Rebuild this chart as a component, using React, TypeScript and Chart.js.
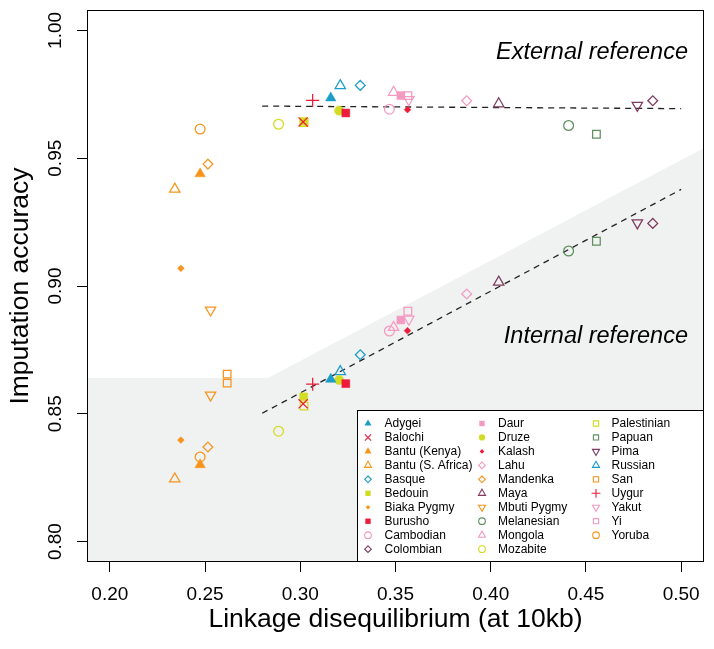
import React, { useEffect, useRef } from 'react';
import { Chart, registerables } from 'chart.js';

Chart.register(...registerables);

// ---------------- data ----------------
const populations = [
  'Adygei', 'Balochi', 'Bantu (Kenya)', 'Bantu (S. Africa)', 'Basque', 'Bedouin', 'Biaka Pygmy', 'Burusho', 'Cambodian', 'Colombian',
  'Daur', 'Druze', 'Kalash', 'Lahu', 'Mandenka', 'Maya', 'Mbuti Pygmy', 'Melanesian', 'Mongola', 'Mozabite',
  'Palestinian', 'Papuan', 'Pima', 'Russian', 'San', 'Uygur', 'Yakut', 'Yi', 'Yoruba',
];

const ldAt10kb = [
  0.316, 0.3015, 0.2474, 0.2341, 0.3315, 0.3018, 0.2373, 0.3239, 0.3468, 0.4851,
  0.3528, 0.3204, 0.3563, 0.3874, 0.2515, 0.4042, 0.2529, 0.4409, 0.349, 0.2886,
  0.302, 0.4555, 0.477, 0.321, 0.2616, 0.3065, 0.357, 0.3565, 0.2474,
];

const externalAccuracy = [
  0.9736, 0.9642, 0.9439, 0.9379, 0.9785, 0.9644, 0.9069, 0.9677, 0.9692, 0.9725,
  0.9745, 0.9686, 0.969, 0.9725, 0.9477, 0.9713, 0.8906, 0.9628, 0.9758, 0.9633,
  0.964, 0.9594, 0.9707, 0.9784, 0.8655, 0.9726, 0.9729, 0.9745, 0.9614,
];

const internalAccuracy = [
  0.8635, 0.8539, 0.8301, 0.8245, 0.8731, 0.8566, 0.8397, 0.8618, 0.8824, 0.9245,
  0.8867, 0.8632, 0.8825, 0.8969, 0.837, 0.9015, 0.8573, 0.9137, 0.8838, 0.8432,
  0.853, 0.9175, 0.9247, 0.8665, 0.862, 0.8616, 0.887, 0.8901, 0.8331,
];

const xTicks = [0.2, 0.25, 0.3, 0.35, 0.4, 0.45, 0.5];
const yTicks = [0.8, 0.85, 0.9, 0.95, 1.0];
const xRange = [0.188, 0.512];
const yRange = [0.792, 1.008];

const externalFitX = [0.28, 0.5];
const externalFitY = [0.9704, 0.9694];
const internalFitX = [0.28, 0.5];
const internalFitY = [0.8502, 0.9378];

const shadeX = [0.188, 0.283, 0.512];
const shadeY = [0.864, 0.864, 0.954];

const annotationTexts = ['External reference', 'Internal reference'];
const annotationX = [0.5036, 0.5036];
const annotationY = [0.989, 0.8778];

// ---------------- styles ----------------
const ORANGE = '#F7941D';
const TEAL = '#1B9DC9';
const RED = '#EC1C3A';
const PINK = '#F49AC2';
const YGREEN = '#D2DC22';
const MAROON = '#7E3A5F';
const GREEN = '#5E8F5E';

const popColors = [
  TEAL, RED, ORANGE, ORANGE, TEAL, YGREEN, ORANGE, RED, PINK, MAROON,
  PINK, YGREEN, RED, PINK, ORANGE, MAROON, ORANGE, GREEN, PINK, YGREEN,
  YGREEN, GREEN, MAROON, TEAL, ORANGE, RED, PINK, PINK, ORANGE,
];

const popShapes = [
  'triFilled', 'x', 'triFilled', 'triOpen', 'diamondOpen', 'squareFilled', 'diamondSmall', 'squareFilled', 'circleOpen', 'diamondOpen',
  'squareFilled', 'circleFilled', 'diamondSmall', 'diamondOpen', 'diamondOpen', 'triOpen', 'triDownOpen', 'circleOpen', 'triOpen', 'circleOpen',
  'squareOpen', 'squareOpen', 'triDownOpen', 'triOpen', 'squareOpen', 'plus', 'triDownOpen', 'squareOpen', 'circleOpen',
];

type ShapeDef = { style: string; filled: boolean; r: number; rot: number };
const shapeDefs: Record<string, ShapeDef> = {
  triFilled: { style: 'triangle', filled: true, r: 6, rot: 0 },
  triOpen: { style: 'triangle', filled: false, r: 6, rot: 0 },
  triDownOpen: { style: 'triangle', filled: false, r: 6, rot: 180 },
  x: { style: 'crossRot', filled: false, r: 6.5, rot: 0 },
  plus: { style: 'cross', filled: false, r: 6.5, rot: 0 },
  diamondOpen: { style: 'rectRot', filled: false, r: 4.9, rot: 0 },
  diamondSmall: { style: 'rectRot', filled: true, r: 3.4, rot: 0 },
  squareFilled: { style: 'rect', filled: true, r: 5.6, rot: 0 },
  squareOpen: { style: 'rect', filled: false, r: 5.4, rot: 0 },
  circleOpen: { style: 'circle', filled: false, r: 4.9, rot: 0 },
  circleFilled: { style: 'circle', filled: true, r: 4.6, rot: 0 },
};

const FONT = '"Liberation Sans", Arial, Helvetica, sans-serif';

function drawMarker(ctx: CanvasRenderingContext2D, shape: string, x: number, y: number, scale: number, color: string) {
  const d = shapeDefs[shape];
  const r = d.r * scale;
  ctx.save();
  ctx.strokeStyle = color;
  ctx.fillStyle = color;
  ctx.lineWidth = 1.1;
  ctx.beginPath();
  if (d.style === 'circle') {
    ctx.arc(x, y, r, 0, Math.PI * 2);
  } else if (d.style === 'triangle') {
    const s = d.rot ? -1 : 1;
    for (let k = 0; k < 3; k++) {
      const a = (k * 2 * Math.PI) / 3;
      const px = x + Math.sin(a) * r * s;
      const py = y - Math.cos(a) * r * s;
      if (k === 0) ctx.moveTo(px, py);
      else ctx.lineTo(px, py);
    }
    ctx.closePath();
  } else if (d.style === 'rect') {
    const h = r * Math.SQRT1_2;
    ctx.rect(x - h, y - h, 2 * h, 2 * h);
  } else if (d.style === 'rectRot') {
    ctx.moveTo(x, y - r);
    ctx.lineTo(x + r, y);
    ctx.lineTo(x, y + r);
    ctx.lineTo(x - r, y);
    ctx.closePath();
  } else if (d.style === 'crossRot') {
    const h = r * Math.SQRT1_2;
    ctx.moveTo(x - h, y - h);
    ctx.lineTo(x + h, y + h);
    ctx.moveTo(x + h, y - h);
    ctx.lineTo(x - h, y + h);
  } else if (d.style === 'cross') {
    ctx.moveTo(x - r, y);
    ctx.lineTo(x + r, y);
    ctx.moveTo(x, y - r);
    ctx.lineTo(x, y + r);
  }
  if (d.filled) ctx.fill();
  else ctx.stroke();
  ctx.restore();
}

const decorPlugin = {
  id: 'decor',
  afterDraw(chart: any) {
    const { ctx, chartArea } = chart;
    const xs = chart.scales.x;
    const ys = chart.scales.y;
    ctx.save();

    // frame
    ctx.strokeStyle = '#000';
    ctx.lineWidth = 1;
    ctx.strokeRect(chartArea.left + 0.5, chartArea.top + 0.5, chartArea.right - chartArea.left - 1, chartArea.bottom - chartArea.top - 1);

    // rotated y tick labels
    ctx.fillStyle = '#000';
    ctx.font = `19px ${FONT}`;
    ctx.textAlign = 'center';
    ctx.textBaseline = 'middle';
    for (const v of yTicks) {
      const py = ys.getPixelForValue(v);
      ctx.save();
      ctx.translate(chartArea.left - 31, py);
      ctx.rotate(-Math.PI / 2);
      ctx.fillText(v.toFixed(2), 0, 0);
      ctx.restore();
    }

    // annotations
    ctx.font = `italic 23.5px ${FONT}`;
    ctx.textAlign = 'right';
    ctx.textBaseline = 'alphabetic';
    annotationTexts.forEach((t, i) => {
      ctx.fillText(t, xs.getPixelForValue(annotationX[i]), ys.getPixelForValue(annotationY[i]));
    });

    // legend
    const w = 347;
    const h = 152;
    const left = chartArea.right - w;
    const top = chartArea.bottom - h;
    ctx.fillStyle = '#fff';
    ctx.fillRect(left, top, w, h);
    ctx.strokeStyle = '#000';
    ctx.lineWidth = 1;
    ctx.strokeRect(left + 0.5, top + 0.5, w - 1, h - 1);
    ctx.font = `12px ${FONT}`;
    ctx.textAlign = 'left';
    ctx.textBaseline = 'middle';
    populations.forEach((name, i) => {
      const col = Math.floor(i / 10);
      const row = i % 10;
      const cy = top + 13.5 + row * 13.96;
      const mx = left + 11 + col * 114;
      drawMarker(ctx, popShapes[i], mx, cy, 0.68, popColors[i]);
      ctx.fillStyle = '#000';
      ctx.fillText(name, left + 27.5 + col * 113.5, cy + 0.5);
    });

    ctx.restore();
  },
};

export default function App() {
  const canvasRef = useRef<HTMLCanvasElement | null>(null);

  useEffect(() => {
    if (!canvasRef.current) return;

    const popDatasets = populations.map((name, i) => {
      const d = shapeDefs[popShapes[i]];
      return {
        type: 'scatter' as const,
        label: name,
        data: [
          { x: ldAt10kb[i], y: externalAccuracy[i] },
          { x: ldAt10kb[i], y: internalAccuracy[i] },
        ],
        pointStyle: d.style,
        pointRadius: d.r,
        pointRotation: d.rot,
        pointBorderWidth: d.filled ? 0.5 : 1.25,
        pointBorderColor: popColors[i],
        pointBackgroundColor: d.filled ? popColors[i] : 'rgba(0,0,0,0)',
        borderColor: popColors[i],
        backgroundColor: d.filled ? popColors[i] : 'rgba(0,0,0,0)',
        showLine: false,
        order: 0,
      };
    });

    const shadeDataset = {
      type: 'line' as const,
      label: 'shade',
      data: shadeX.map((x, i) => ({ x, y: shadeY[i] })),
      borderWidth: 0,
      borderColor: 'rgba(0,0,0,0)',
      backgroundColor: '#F0F1F1',
      pointRadius: 0,
      fill: 'start',
      tension: 0,
      order: 20,
    };

    const fitDataset = (xsArr: number[], ysArr: number[], label: string) => ({
      type: 'line' as const,
      label,
      data: xsArr.map((x, i) => ({ x, y: ysArr[i] })),
      borderColor: '#222',
      borderWidth: 1.3,
      borderDash: [6, 5],
      pointRadius: 0,
      fill: false,
      tension: 0,
      order: 10,
    });

    const chart = new Chart(canvasRef.current, {
      type: 'scatter',
      data: {
        datasets: [
          shadeDataset as any,
          fitDataset(externalFitX, externalFitY, 'external fit') as any,
          fitDataset(internalFitX, internalFitY, 'internal fit') as any,
          ...(popDatasets as any[]),
        ],
      },
      options: {
        responsive: false,
        animation: false,
        devicePixelRatio: 1,
        events: [],
        layout: { padding: { left: 0, top: 10, right: 10, bottom: 0 } },
        plugins: {
          legend: { display: false },
          tooltip: { enabled: false },
        },
        scales: {
          x: {
            type: 'linear',
            min: xRange[0],
            max: xRange[1],
            afterBuildTicks: (s: any) => {
              s.ticks = xTicks.map((v) => ({ value: v }));
            },
            afterFit: (s: any) => {
              s.height = 87;
            },
            grid: { display: true, drawOnChartArea: false, drawTicks: true, tickLength: 10, color: '#000', lineWidth: 1 },
            border: { display: false },
            ticks: {
              font: { size: 19, family: FONT },
              color: '#000',
              padding: 11,
              maxRotation: 0,
              autoSkip: false,
              callback: (v: any) => Number(v).toFixed(2),
            },
            title: {
              display: true,
              text: 'Linkage disequilibrium (at 10kb)',
              font: { size: 26.5, family: FONT },
              color: '#000',
              padding: { top: 0, bottom: 13 },
            },
          },
          y: {
            type: 'linear',
            min: yRange[0],
            max: yRange[1],
            afterBuildTicks: (s: any) => {
              s.ticks = yTicks.map((v) => ({ value: v }));
            },
            afterFit: (s: any) => {
              s.width = 87;
            },
            grid: { display: true, drawOnChartArea: false, drawTicks: true, tickLength: 10, color: '#000', lineWidth: 1 },
            border: { display: false },
            ticks: { display: false },
            title: {
              display: true,
              text: 'Imputation accuracy',
              font: { size: 26.5, family: FONT },
              color: '#000',
              padding: { top: 5, bottom: 0 },
            },
          },
        },
      },
      plugins: [decorPlugin],
    });

    return () => chart.destroy();
  }, []);

  return (
    <div style={{ position: 'absolute', left: 0, top: 0, width: 714, height: 649, background: '#fff' }}>
      <canvas ref={canvasRef} width={714} height={649} style={{ display: 'block' }} />
    </div>
  );
}
